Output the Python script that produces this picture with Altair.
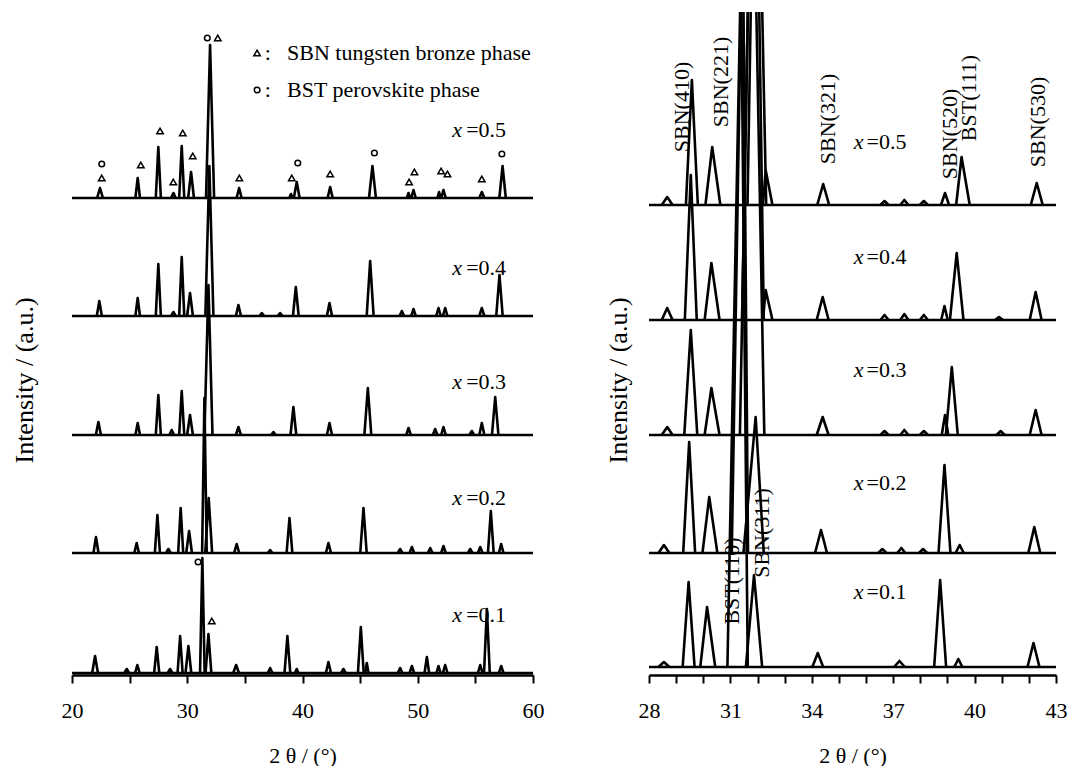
import altair as alt
import pandas as pd

FONT = "Liberation Serif"

# ---------------- LEFT PANEL (2θ = 20..60) ----------------
# peaks: (2θ, height above the trace baseline, half-width [, right half-width])
L_LABELS = ["0.1", "0.2", "0.3", "0.4", "0.5"]
L_OFFSET = [2, 122, 240, 359, 477]
L_P01 = [(22.0, 17, .25), (24.75, 4, .2), (25.67, 8, .2), (27.35, 26, .22), (28.51, 4, .2),
         (29.38, 37, .22), (30.1, 27, .25), (31.31, 115, .2), (31.84, 39, .25), (34.24, 8, .25),
         (37.19, 5, .2), (38.69, 37, .25), (39.5, 4, .15), (42.25, 11, .22), (43.55, 4, .2),
         (45.06, 46, .25), (45.58, 10, .15), (48.47, 5, .2), (49.49, 7, .2), (50.79, 16, .2),
         (51.8, 7, .18), (52.38, 8, .2), (55.42, 8, .2), (56.0, 64, .25), (57.24, 7, .2)]
L_P02 = [(22.08, 16, .22), (25.61, 10, .2), (27.41, 38, .22), (28.36, 4, .2), (29.43, 45, .22),
         (30.16, 22, .25), (31.49, 155, .2), (31.86, 55, .3), (34.29, 9, .22), (37.19, 3, .2),
         (38.87, 35, .25), (42.25, 10, .22), (45.29, 45, .28), (48.47, 4, .2), (49.49, 6, .2),
         (51.08, 5, .2), (52.23, 7, .2), (54.55, 4, .2), (55.42, 6, .2), (56.34, 42, .25),
         (57.24, 9, .2)]
L_P03 = [(22.29, 13, .22), (25.7, 12, .2), (27.49, 40, .22), (28.65, 5, .2), (29.52, 44, .22),
         (30.24, 20, .25), (31.84, 150, .35), (34.44, 8, .22), (37.48, 3, .2), (39.21, 28, .25),
         (42.34, 12, .22), (45.67, 47, .3), (49.2, 7, .2), (51.51, 6, .2), (52.23, 8, .2),
         (54.69, 4, .2), (55.56, 12, .22), (56.72, 38, .28)]
L_P04 = [(22.37, 15, .22), (25.7, 18, .2), (27.49, 52, .22), (28.8, 4, .2), (29.52, 59, .22),
         (30.24, 23, .25), (31.92, 150, .35), (34.44, 11, .22), (36.47, 3, .2), (38.06, 3, .2),
         (39.42, 29, .25), (42.34, 13, .22), (45.87, 55, .3), (48.62, 5, .2), (49.63, 7, .2),
         (51.8, 8, .2), (52.38, 8, .2), (55.56, 8, .22), (57.09, 41, .28)]
L_P05 = [(22.43, 10, .25), (25.7, 20, .2), (27.49, 51, .22), (28.8, 5, .2), (29.52, 52, .22),
         (30.33, 26, .25), (31.98, 153, .35), (34.5, 10, .22), (39.0, 4, .15), (39.5, 16, .25),
         (42.4, 11, .22), (46.07, 32, .3), (49.2, 5, .15), (49.63, 8, .2), (51.85, 6, .15),
         (52.23, 8, .2), (55.56, 6, .22), (57.36, 32, .28)]
L_PEAKS = [L_P01, L_P02, L_P03, L_P04, L_P05]

# phase markers (2θ, intensity position)
TRI_X = [22.58, 25.97, 27.64, 28.79, 29.61, 30.48, 32.65, 34.52, 39.07, 42.40, 49.25, 49.71,
         52.03, 52.58, 55.56, 32.13]
TRI_Y = [497, 510, 544, 493, 542, 519, 637, 497, 497, 501, 493, 503, 504, 501, 496, 54]
CIR_X = [22.58, 31.74, 39.59, 46.24, 57.30, 30.94]
CIR_Y = [511, 637, 512, 522, 521, 113]

# ---------------- RIGHT PANEL (2θ = 28..43) ----------------
R_OFFSET = [8, 122, 240, 355, 470]
R_P01 = [(28.55, 5, .2), (29.46, 85, .22), (30.14, 60, .25, .3), (31.39, 700, .5, .25),
         (31.87, 92, .3, .3), (34.22, 14, .2), (37.23, 6, .2), (38.73, 87, .22), (39.4, 8, .15),
         (42.17, 24, .22)]
R_P02 = [(28.55, 8, .2), (29.48, 111, .22), (30.22, 56, .25, .3), (31.45, 650, .4, .2),
         (31.93, 136, .45, .3), (34.34, 23, .22), (36.6, 4, .15), (37.3, 5, .15), (38.1, 4, .15),
         (38.89, 88, .22), (39.45, 8, .15), (42.2, 26, .22)]
R_P03 = [(28.67, 8, .2), (29.54, 105, .24), (30.3, 47, .25, .3), (31.8, 650, .45, .45),
         (34.4, 18, .22), (36.68, 4, .15), (37.41, 5, .15), (38.13, 4, .15), (38.91, 20, .12),
         (39.16, 68, .22), (40.96, 4, .15), (42.25, 25, .22)]
R_P04 = [(28.67, 12, .2), (29.54, 145, .22), (30.3, 57, .25, .3), (31.88, 650, .45, .35),
         (32.3, 30, .1, .25), (34.4, 23, .22), (36.68, 5, .15), (37.41, 6, .15), (38.13, 5, .15),
         (38.89, 14, .12), (39.34, 67, .25), (40.9, 3, .15), (42.25, 28, .22)]
R_P05 = [(28.67, 8, .2), (29.58, 125, .22), (30.33, 58, .25, .3), (31.94, 500, .31, .38),
         (32.3, 35, .1, .25), (34.42, 21, .22), (36.68, 4, .15), (37.41, 5, .15), (38.13, 4, .15),
         (38.91, 12, .15), (39.52, 48, .2, .3), (42.29, 22, .22)]
R_PEAKS = [R_P01, R_P02, R_P03, R_P04, R_P05]

R_ANN_TEXT = ["SBN(410)", "SBN(221)", "SBN(321)", "SBN(520)", "BST(111)", "SBN(530)",
              "BST(110)", "SBN(311)"]
R_ANN_X = [29.23, 30.67, 34.58, 39.09, 39.78, 42.35, 31.07, 32.16]
R_ANN_Y = [568, 593, 556, 541, 577, 553, 94, 142]

# composition labels
L_LAB_Y = [60, 177, 293, 407, 545]
R_LAB_Y = [83, 192, 305, 418, 533]

Y_MAX = 663
ys = alt.Scale(domain=[0, Y_MAX], nice=False, zero=False)


def trace_rows(peaks, offset, name, xmin, xmax):
    rows = [{"s": name + "-b", "o": 0, "x": xmin, "y": offset},
            {"s": name + "-b", "o": 1, "x": xmax, "y": offset}]
    for i, pk in enumerate(peaks):
        p, h, wl = pk[0], pk[1], pk[2]
        wr = pk[3] if len(pk) > 3 else wl
        sid = f"{name}-{i}"
        rows += [{"s": sid, "o": 0, "x": p - wl, "y": offset},
                 {"s": sid, "o": 1, "x": p, "y": offset + h},
                 {"s": sid, "o": 2, "x": p + wr, "y": offset}]
    return rows


def make_axes(tick_vals, label_expr, title_x):
    xaxis = alt.Axis(values=tick_vals, labelExpr=label_expr, title="2 θ / (°)",
                     labelPadding=27, labelBaseline="middle", titleY=80,
                     titleBaseline="middle", labelOverlap=False, labelFlush=False,
                     labelBound=False)
    yaxis = alt.Axis(title="Intensity / (a.u.)", titleAngle=270, titleX=title_x,
                     titleY=368, titleBaseline="middle", titleAlign="center",
                     titleFontSize=26)
    return xaxis, yaxis


def panel(peaks_list, offsets, xs, xaxis, yaxis, lab_y, x_lab_x, eq_lab_x):
    xmin, xmax = xs.domain
    rows = []
    for lab, pk, off in zip(L_LABELS, peaks_list, offsets):
        rows += trace_rows(pk, off, lab, xmin, xmax)
    df = pd.DataFrame(rows)
    lines = alt.Chart(df).mark_line(color="black", strokeWidth=2.6, strokeJoin="round",
                                    clip=True).encode(
        x=alt.X("x:Q", scale=xs, axis=xaxis),
        y=alt.Y("y:Q", scale=ys, axis=yaxis),
        detail="s:N", order="o:Q")
    xl = alt.Chart(pd.DataFrame({"x": [x_lab_x] * 5, "y": lab_y})).mark_text(
        font=FONT, fontSize=22, fontStyle="italic", align="right", baseline="middle",
        color="black", text="x").encode(x=alt.X("x:Q", scale=xs, axis=xaxis),
                                        y=alt.Y("y:Q", scale=ys, axis=yaxis))
    eq = alt.Chart(pd.DataFrame({"x": [eq_lab_x] * 5, "y": lab_y,
                                 "t": ["=" + v for v in L_LABELS]})).mark_text(
        font=FONT, fontSize=22, align="left", baseline="middle", color="black").encode(
        x=alt.X("x:Q", scale=xs, axis=xaxis), y=alt.Y("y:Q", scale=ys, axis=yaxis), text="t:N")
    return [lines, xl, eq]


def pts(xv, yv, shape, size, xs, xaxis, yaxis):
    return alt.Chart(pd.DataFrame({"x": xv, "y": yv})).mark_point(
        shape=shape, filled=False, color="black", strokeWidth=1.5, size=size, opacity=1).encode(
        x=alt.X("x:Q", scale=xs, axis=xaxis), y=alt.Y("y:Q", scale=ys, axis=yaxis))


# ---- left panel ----
xsL = alt.Scale(domain=[20, 60], nice=False, zero=False)
xaL, yaL = make_axes(list(range(20, 61, 5)), "datum.value % 10 === 0 ? datum.label : ''", -48)
l_layers = panel(L_PEAKS, L_OFFSET, xsL, xaL, yaL, L_LAB_Y, 53.85, 54.2)
tri = pts(TRI_X, TRI_Y, "triangle-up", 42, xsL, xaL, yaL)
cir = pts(CIR_X, CIR_Y, "circle", 32, xsL, xaL, yaL)
LEG_SYM_X = [36.06]
leg_tri = pts(LEG_SYM_X, [622], "triangle-up", 42, xsL, xaL, yaL)
leg_cir = pts(LEG_SYM_X, [585], "circle", 32, xsL, xaL, yaL)
LEG_TEXT = ["SBN tungsten bronze phase", "BST perovskite phase"]
leg_colon = alt.Chart(pd.DataFrame({"x": [37.0, 37.0], "y": [622, 585]})).mark_text(
    font=FONT, fontSize=22, text=":", color="black", baseline="middle").encode(
    x=alt.X("x:Q", scale=xsL, axis=xaL), y=alt.Y("y:Q", scale=ys, axis=yaL))
leg_txt = alt.Chart(pd.DataFrame({"x": [38.66, 38.66], "y": [622, 585], "t": LEG_TEXT})).mark_text(
    font=FONT, fontSize=22, align="left", color="black", baseline="middle").encode(
    x=alt.X("x:Q", scale=xsL, axis=xaL), y=alt.Y("y:Q", scale=ys, axis=yaL), text="t:N")
left = alt.layer(*l_layers, tri, cir, leg_tri, leg_cir, leg_colon, leg_txt).properties(
    width=461, height=Y_MAX)

# ---- right panel ----
xsR = alt.Scale(domain=[28, 43], nice=False, zero=False)
xaR, yaR = make_axes(list(range(28, 44)),
                     "(datum.value - 28) % 3 === 0 ? datum.label : ''", -31)
r_layers = panel(R_PEAKS, R_OFFSET, xsR, xaR, yaR, R_LAB_Y, 35.91, 36.02)
ann = alt.Chart(pd.DataFrame({"x": R_ANN_X, "y": R_ANN_Y, "t": R_ANN_TEXT})).mark_text(
    font=FONT, fontSize=22, angle=270, align="center", baseline="middle", color="black").encode(
    x=alt.X("x:Q", scale=xsR, axis=xaR), y=alt.Y("y:Q", scale=ys, axis=yaR), text="t:N")
right = alt.layer(*r_layers, ann).properties(width=407, height=Y_MAX)

chart = alt.hconcat(left, right, spacing=61).properties(
    padding={"left": 3, "top": 4, "right": 0, "bottom": 0},
    background="white"
).configure_view(stroke=None).configure_axis(
    labelFont=FONT, labelFontSize=22, labelColor="black", titleFont=FONT, titleFontSize=22,
    titleColor="black", titleFontWeight="normal", grid=False, labelOverlap=False
).configure_axisX(
    domainColor="black", domainWidth=2.5, tickColor="black", tickWidth=2, tickSize=8,
    labelOverlap=False
).configure_axisY(
    domain=False, ticks=False, labels=False, grid=False
)

chart.save("out.html", embed_options={"renderer": "svg", "actions": False})
